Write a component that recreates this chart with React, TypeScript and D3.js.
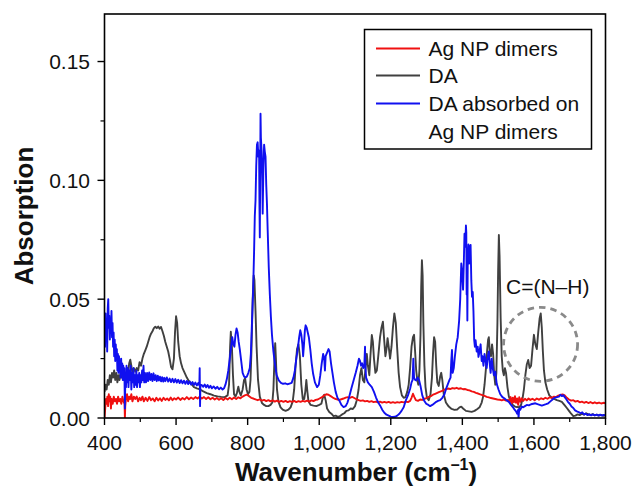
import React from "react";
import * as d3 from "d3";

const xTicks = [400, 600, 800, 1000, 1200, 1400, 1600, 1800];
const xMinorTicks = [500, 700, 900, 1100, 1300, 1500, 1700];
const yTicks = [0, 0.05, 0.1, 0.15];
const yMinorTicks = [0.025, 0.075, 0.125];
const seriesNames = ["Ag NP dimers", "DA", "DA absorbed on Ag NP dimers"];
const seriesColors = ["#f01010", "#404040", "#1010f0"];

const agNP: [number, number][] = [
[400,0.000],[402,0.004],[404,0.008],[406,0.006],[408,0.009],[410,0.005],[412,0.010],[414,0.007],[416,0.009],[418,0.004],[420,0.008],[423,0.006],[426,0.009],[429,0.007],[432,0.008],[435,0.006],[438,0.009],[441,0.007],[444,0.008],[447,0.006],[450,0.009],[453,0.007],[456,0.006],[457,0.000],[458,0.005],[460,0.008],[463,0.010],[466,0.007],[469,0.009],[472,0.008],[475,0.010],[478,0.007],[482,0.009],[486,0.008],[490,0.009],[494,0.007],[498,0.0085],[502,0.0075],[506,0.009],[510,0.007],[515,0.0085],[520,0.0072],[525,0.0088],[530,0.0075],[535,0.0082],[540,0.007],[545,0.0085],[550,0.0074],[555,0.0083],[560,0.0072],[565,0.0085],[570,0.0076],[575,0.0082],[580,0.0074],[585,0.0086],[590,0.0075],[595,0.0083],[600,0.0078],[606,0.0086],[612,0.0076],[618,0.0084],[624,0.0078],[630,0.0088],[636,0.0079],[642,0.0086],[648,0.008],[654,0.0088],[660,0.0082],[666,0.009],[672,0.0082],[678,0.0088],[684,0.008],[690,0.0087],[696,0.0079],[702,0.0085],[708,0.0078],[714,0.0084],[720,0.0077],[726,0.0083],[732,0.0076],[738,0.0084],[744,0.0078],[750,0.0085],[756,0.0079],[762,0.0086],[768,0.008],[774,0.0087],[780,0.0083],[786,0.009],[792,0.0095],[798,0.0098],[804,0.0092],[810,0.0085],[816,0.0082],[822,0.0078],[828,0.0075],[834,0.0078],[840,0.0073],[846,0.0076],[852,0.0071],[858,0.0075],[864,0.007],[870,0.0074],[876,0.0069],[882,0.0073],[888,0.0068],[894,0.0072],[900,0.0068],[906,0.0072],[912,0.0067],[918,0.0071],[924,0.0068],[930,0.0072],[936,0.0067],[942,0.0071],[948,0.0068],[954,0.0072],[960,0.0069],[966,0.0073],[972,0.0069],[978,0.0074],[984,0.0071],[990,0.0076],[996,0.0078],[1002,0.0083],[1008,0.0088],[1014,0.0095],[1020,0.0100],[1026,0.0098],[1032,0.0092],[1038,0.0086],[1044,0.0081],[1050,0.0078],[1056,0.0076],[1062,0.0079],[1068,0.0082],[1074,0.0086],[1080,0.0088],[1086,0.0085],[1092,0.0089],[1098,0.0084],[1104,0.0079],[1110,0.0075],[1116,0.0072],[1122,0.0074],[1128,0.007],[1134,0.0072],[1140,0.0068],[1146,0.0071],[1152,0.0067],[1158,0.0069],[1164,0.0066],[1170,0.0069],[1176,0.0065],[1182,0.0068],[1188,0.0065],[1194,0.0068],[1200,0.0064],[1206,0.0067],[1212,0.0064],[1218,0.0067],[1224,0.0065],[1230,0.0068],[1236,0.0066],[1242,0.0069],[1248,0.0067],[1254,0.0072],[1258,0.0085],[1262,0.0102],[1266,0.0088],[1270,0.0075],[1276,0.0072],[1282,0.0078],[1288,0.0076],[1294,0.0081],[1300,0.0084],[1306,0.0089],[1312,0.0092],[1318,0.0098],[1324,0.0102],[1330,0.0106],[1336,0.011],[1342,0.0113],[1348,0.0118],[1354,0.0121],[1360,0.0124],[1366,0.0122],[1372,0.0126],[1378,0.0124],[1384,0.0127],[1390,0.0123],[1396,0.0125],[1402,0.0121],[1408,0.0122],[1414,0.0118],[1420,0.0116],[1426,0.0112],[1432,0.011],[1438,0.0106],[1444,0.0103],[1450,0.0099],[1456,0.0096],[1462,0.0093],[1468,0.0089],[1474,0.0087],[1480,0.0084],[1486,0.0082],[1492,0.008],[1498,0.0078],[1504,0.0077],[1510,0.0074],[1516,0.0077],[1522,0.0073],[1528,0.0076],[1532,0.0068],[1535,0.0088],[1538,0.0062],[1541,0.0085],[1544,0.0066],[1547,0.0092],[1550,0.0064],[1553,0.0082],[1556,0.0055],[1559,0.0088],[1562,0.0068],[1566,0.0083],[1570,0.0072],[1575,0.0081],[1580,0.0074],[1585,0.0082],[1590,0.0076],[1596,0.0081],[1602,0.0075],[1608,0.0082],[1614,0.0077],[1620,0.0083],[1626,0.0079],[1632,0.0085],[1638,0.0081],[1644,0.0087],[1650,0.0085],[1656,0.009],[1662,0.0088],[1668,0.0094],[1674,0.0097],[1680,0.0099],[1686,0.0095],[1692,0.0085],[1698,0.0078],[1704,0.0073],[1710,0.0075],[1716,0.0069],[1722,0.0072],[1728,0.0066],[1734,0.0069],[1740,0.0064],[1746,0.0068],[1752,0.0063],[1758,0.0067],[1764,0.0062],[1770,0.0066],[1776,0.0062],[1782,0.0065],[1788,0.0061],[1794,0.0064],[1800,0.0062]
];

const da: [number, number][] = [
[400,0.011],[403,0.014],[406,0.012],[409,0.016],[412,0.014],[415,0.018],[418,0.015],[421,0.019],[424,0.017],[427,0.020],[430,0.016],[433,0.019],[436,0.015],[439,0.018],[442,0.016],[445,0.019],[448,0.017],[451,0.020],[454,0.016],[457,0.019],[460,0.017],[463,0.021],[466,0.019],[469,0.023],[472,0.0245],[475,0.022],[478,0.019],[482,0.021],[486,0.0195],[490,0.021],[494,0.020],[498,0.0235],[502,0.022],[506,0.025],[510,0.027],[514,0.0285],[518,0.030],[522,0.032],[526,0.034],[530,0.0355],[534,0.0365],[538,0.0378],[542,0.0384],[546,0.0378],[550,0.0385],[554,0.0376],[558,0.0383],[562,0.0365],[566,0.0345],[570,0.032],[574,0.030],[578,0.028],[582,0.025],[586,0.0215],[590,0.0205],[594,0.025],[597,0.036],[600,0.0428],[603,0.040],[606,0.032],[610,0.026],[614,0.023],[618,0.021],[624,0.019],[630,0.017],[636,0.0155],[642,0.0145],[650,0.013],[658,0.0125],[667,0.012],[676,0.0112],[686,0.0105],[696,0.010],[706,0.0094],[716,0.0091],[726,0.0089],[736,0.0088],[744,0.0095],[748,0.014],[751,0.030],[753,0.0363],[756,0.030],[759,0.018],[762,0.010],[766,0.009],[770,0.0105],[774,0.0132],[777,0.011],[781,0.0095],[786,0.012],[790,0.016],[793,0.0167],[797,0.012],[801,0.010],[805,0.011],[808,0.016],[811,0.030],[814,0.050],[817,0.060],[819,0.058],[822,0.045],[825,0.030],[829,0.016],[834,0.009],[840,0.0063],[846,0.0055],[852,0.005],[858,0.005],[864,0.0055],[869,0.0065],[872,0.012],[875,0.025],[877,0.0315],[879,0.025],[882,0.012],[886,0.007],[892,0.0045],[898,0.0035],[906,0.003],[914,0.0035],[920,0.0045],[926,0.007],[930,0.012],[934,0.022],[938,0.029],[942,0.031],[946,0.026],[950,0.014],[954,0.008],[958,0.008],[961,0.011],[964,0.016],[967,0.011],[970,0.007],[976,0.0055],[984,0.0052],[992,0.005],[1000,0.0055],[1006,0.006],[1010,0.0085],[1014,0.0098],[1018,0.0075],[1022,0.004],[1028,0.0025],[1034,0.0018],[1040,0.0008],[1046,0.001],[1052,0.0005],[1058,0.0008],[1064,0.0015],[1070,0.002],[1076,0.003],[1082,0.0032],[1088,0.004],[1094,0.0038],[1100,0.005],[1105,0.0075],[1110,0.012],[1114,0.018],[1118,0.021],[1122,0.016],[1126,0.015],[1130,0.022],[1133,0.027],[1136,0.022],[1140,0.018],[1143,0.026],[1147,0.0349],[1150,0.032],[1153,0.025],[1157,0.019],[1161,0.020],[1165,0.026],[1170,0.034],[1174,0.038],[1178,0.0405],[1182,0.032],[1185,0.026],[1188,0.029],[1191,0.0336],[1195,0.029],[1198,0.025],[1202,0.030],[1206,0.038],[1210,0.044],[1214,0.040],[1218,0.029],[1222,0.019],[1226,0.013],[1231,0.0095],[1236,0.0085],[1241,0.0088],[1246,0.011],[1250,0.014],[1254,0.021],[1258,0.030],[1262,0.034],[1265,0.035],[1268,0.028],[1271,0.020],[1274,0.016],[1277,0.014],[1280,0.020],[1283,0.035],[1285,0.055],[1287,0.0664],[1289,0.060],[1291,0.040],[1294,0.022],[1297,0.013],[1301,0.0085],[1306,0.0075],[1311,0.010],[1315,0.017],[1318,0.027],[1321,0.034],[1324,0.032],[1327,0.022],[1330,0.015],[1334,0.0135],[1338,0.0175],[1341,0.019],[1344,0.016],[1348,0.010],[1354,0.0065],[1362,0.0048],[1370,0.0038],[1378,0.0034],[1386,0.0036],[1392,0.0045],[1397,0.0048],[1402,0.004],[1410,0.003],[1418,0.0028],[1426,0.0026],[1434,0.003],[1442,0.0038],[1448,0.0045],[1454,0.0065],[1458,0.009],[1462,0.014],[1466,0.021],[1469,0.028],[1472,0.033],[1474,0.034],[1477,0.027],[1480,0.026],[1483,0.031],[1486,0.027],[1489,0.018],[1492,0.014],[1495,0.019],[1498,0.040],[1500,0.062],[1502,0.077],[1504,0.068],[1507,0.042],[1510,0.026],[1513,0.020],[1516,0.018],[1519,0.021],[1522,0.019],[1526,0.013],[1530,0.009],[1535,0.007],[1541,0.0055],[1547,0.0048],[1553,0.0046],[1559,0.0045],[1564,0.0055],[1568,0.008],[1572,0.012],[1576,0.018],[1580,0.0225],[1584,0.0244],[1588,0.021],[1592,0.022],[1596,0.029],[1600,0.035],[1604,0.031],[1608,0.029],[1612,0.036],[1616,0.042],[1619,0.044],[1622,0.038],[1625,0.028],[1628,0.020],[1632,0.015],[1637,0.012],[1643,0.0095],[1650,0.0085],[1657,0.008],[1664,0.0075],[1671,0.0072],[1678,0.0068],[1685,0.0055],[1692,0.0042],[1698,0.003],[1704,0.0018],[1710,0.0008],[1716,0.001],[1722,0.0015],[1728,0.0012],[1734,0.0018],[1740,0.0014],[1746,0.002],[1752,0.0015],[1758,0.0012],[1764,0.0016],[1770,0.0011],[1776,0.0014],[1782,0.001],[1788,0.0013],[1794,0.0009],[1800,0.0011]
];

const daOnAg: [number, number][] = [
[400,0.040],[401.5,0.030],[403,0.044],[404.5,0.034],[406,0.041],[407.5,0.028],[409,0.046],[410.5,0.050],[412,0.038],[413.5,0.043],[415,0.033],[416.5,0.042],[418,0.036],[419.5,0.045],[421,0.034],[422.5,0.040],[424,0.030],[425.5,0.036],[427,0.026],[428.5,0.033],[430,0.024],[431.5,0.031],[433,0.025],[434.5,0.029],[436,0.020],[437.5,0.027],[439,0.019],[440.5,0.026],[442,0.021],[443.5,0.024],[445,0.017],[446.5,0.025],[448,0.019],[449.5,0.023],[451,0.016],[452.5,0.022],[454,0.018],[455.5,0.021],[457,0.004],[458.5,0.019],[460,0.013],[461.5,0.022],[463,0.015],[465,0.021],[467,0.013],[469,0.020],[471,0.016],[473,0.022],[475,0.012],[477,0.019],[479,0.015],[481,0.021],[483,0.013],[485,0.018],[487,0.014],[489,0.020],[491,0.013],[493,0.018],[495,0.015],[497,0.019],[499,0.013],[501,0.018],[503,0.015],[505,0.020],[507,0.016],[509,0.022],[511,0.015],[513,0.019],[516,0.015],[519,0.019],[522,0.0155],[525,0.0192],[528,0.016],[531,0.0185],[534,0.0155],[537,0.0188],[540,0.016],[543,0.018],[546,0.0155],[549,0.0178],[552,0.0158],[555,0.0174],[558,0.0154],[561,0.0172],[564,0.0153],[567,0.0169],[570,0.0155],[574,0.0171],[578,0.0153],[582,0.0166],[586,0.0151],[590,0.0165],[594,0.015],[598,0.0164],[602,0.0149],[606,0.0161],[610,0.0147],[614,0.0159],[618,0.0146],[622,0.0157],[626,0.0144],[630,0.0156],[634,0.0143],[638,0.0154],[642,0.0141],[646,0.0151],[650,0.0139],[654,0.0149],[658,0.0137],[662,0.0147],[665,0.0137],[666,0.021],[667,0.005],[668,0.014],[672,0.0138],[676,0.0131],[680,0.0141],[684,0.0129],[688,0.0139],[692,0.0127],[696,0.0136],[700,0.0125],[705,0.0133],[710,0.0123],[715,0.0131],[720,0.0121],[725,0.0128],[730,0.012],[734,0.0125],[738,0.014],[742,0.0165],[746,0.020],[750,0.025],[754,0.030],[757,0.034],[760,0.031],[763,0.030],[766,0.035],[769,0.0377],[772,0.036],[775,0.032],[778,0.029],[782,0.024],[786,0.019],[790,0.0175],[794,0.017],[798,0.0175],[802,0.019],[806,0.021],[809,0.027],[812,0.040],[815,0.052],[818,0.070],[820,0.085],[822,0.0915],[824,0.106],[826,0.115],[828,0.116],[830,0.110],[832,0.1125],[833,0.090],[834,0.076],[835,0.100],[836,0.128],[837,0.118],[839,0.1125],[841,0.100],[842,0.086],[844,0.105],[846,0.115],[848,0.112],[850,0.110],[852,0.098],[854,0.090],[856,0.079],[859,0.0635],[862,0.052],[865,0.0425],[868,0.035],[872,0.028],[876,0.023],[881,0.018],[887,0.0158],[893,0.0148],[899,0.0144],[905,0.0146],[911,0.0142],[917,0.0145],[923,0.0148],[928,0.017],[932,0.020],[936,0.025],[940,0.029],[944,0.034],[947,0.0369],[950,0.035],[953,0.031],[955,0.026],[957,0.030],[960,0.037],[962,0.039],[965,0.038],[968,0.036],[971,0.034],[975,0.029],[979,0.023],[983,0.0186],[988,0.015],[994,0.013],[999,0.014],[1003,0.018],[1007,0.023],[1011,0.027],[1014,0.025],[1016,0.020],[1018,0.026],[1022,0.0275],[1026,0.029],[1029,0.028],[1033,0.023],[1037,0.019],[1041,0.015],[1046,0.011],[1051,0.0085],[1056,0.0074],[1062,0.0055],[1068,0.0046],[1074,0.005],[1079,0.0065],[1084,0.009],[1090,0.0125],[1096,0.0158],[1102,0.019],[1107,0.022],[1111,0.025],[1114,0.024],[1117,0.022],[1120,0.023],[1123,0.021],[1126,0.022],[1128,0.030],[1129,0.022],[1131,0.017],[1136,0.015],[1141,0.014],[1147,0.013],[1153,0.011],[1159,0.0085],[1165,0.0065],[1170,0.0053],[1176,0.0035],[1182,0.0022],[1188,0.0014],[1194,0.001],[1200,0.0006],[1206,0.0004],[1212,0.0005],[1218,0.001],[1224,0.0018],[1230,0.003],[1236,0.0045],[1242,0.0074],[1248,0.0095],[1254,0.0123],[1258,0.015],[1261,0.016],[1263,0.025],[1265,0.017],[1268,0.016],[1271,0.0158],[1275,0.017],[1279,0.016],[1283,0.0135],[1288,0.0095],[1293,0.0074],[1299,0.006],[1305,0.0055],[1310,0.005],[1316,0.0055],[1322,0.0062],[1327,0.0068],[1332,0.0072],[1338,0.0075],[1344,0.0085],[1350,0.01],[1355,0.0125],[1360,0.0145],[1364,0.016],[1367,0.017],[1369,0.024],[1371,0.0286],[1373,0.019],[1376,0.021],[1379,0.0257],[1383,0.031],[1387,0.034],[1391,0.041],[1394,0.050],[1397,0.065],[1400,0.060],[1402,0.054],[1404,0.065],[1406,0.0775],[1408,0.072],[1410,0.081],[1411,0.078],[1412,0.052],[1413,0.060],[1414,0.041],[1415,0.066],[1417,0.073],[1419,0.065],[1421,0.072],[1423,0.0728],[1425,0.058],[1427,0.051],[1429,0.053],[1431,0.045],[1433,0.033],[1435,0.030],[1437,0.0327],[1440,0.028],[1443,0.030],[1445,0.0257],[1448,0.028],[1451,0.031],[1454,0.024],[1456,0.026],[1459,0.022],[1462,0.027],[1465,0.024],[1468,0.021],[1471,0.026],[1474,0.028],[1477,0.022],[1479,0.019],[1482,0.025],[1485,0.021],[1488,0.018],[1492,0.0195],[1496,0.0144],[1501,0.012],[1506,0.010],[1512,0.0088],[1518,0.0082],[1524,0.0074],[1530,0.0068],[1536,0.0055],[1541,0.0046],[1546,0.0035],[1550,0.0028],[1553,0.0018],[1556,0.0035],[1557,0.0],[1559,0.004],[1562,0.0035],[1566,0.0048],[1570,0.0045],[1575,0.005],[1580,0.0055],[1586,0.0053],[1592,0.0058],[1598,0.006],[1604,0.0062],[1610,0.0058],[1616,0.0055],[1622,0.0052],[1628,0.0055],[1634,0.0058],[1640,0.0062],[1646,0.007],[1652,0.0078],[1658,0.0085],[1664,0.0088],[1670,0.009],[1674,0.0098],[1678,0.0092],[1682,0.0096],[1686,0.0088],[1690,0.008],[1695,0.0068],[1700,0.006],[1705,0.0048],[1710,0.0042],[1715,0.0032],[1720,0.0028],[1725,0.0025],[1730,0.002],[1735,0.0024],[1740,0.0015],[1745,0.0018],[1750,0.0012],[1755,0.0016],[1760,0.0011],[1765,0.0015],[1770,0.0011],[1775,0.0014],[1780,0.001],[1785,0.0014],[1790,0.001],[1795,0.0013],[1800,0.0011]
];

const annotationText = "C=(N\u2013H)";
const annotationCenter: [number, number] = [1620, 0.0310];

const W = 634;
const H = 489;
const M = { left: 104.5, right: 605.5, top: 14, bottom: 418 };
const FONT = "'Liberation Sans', Arial, Helvetica, sans-serif";

export default function App() {
  const x = d3.scaleLinear().domain([400, 1800]).range([M.left, M.right]);
  const y = d3.scaleLinear().domain([0, 0.17]).range([M.bottom, M.top]);
  const line = d3
    .line<[number, number]>()
    .x((d) => x(d[0]))
    .y((d) => y(d[1]));
  const fmtX = d3.format(",");
  const fmtY = d3.format(".2f");
  const series = [agNP, da, daOnAg];
  const drawOrder = [1, 0, 2];

  const legendX = 364.5;
  const legendY = 29.5;
  const legendRows = [
    { y: 48.5, text: seriesNames[0], color: seriesColors[0] },
    { y: 75.5, text: seriesNames[1], color: seriesColors[1] },
    { y: 103.5, text: "DA absorbed on", color: seriesColors[2] },
  ];

  return (
    <svg
      width={W}
      height={H}
      style={{ position: "absolute", left: 0, top: 0, background: "#fff" }}
      fontFamily={FONT}
    >
      <defs>
        <clipPath id="plotClip">
          <rect x={M.left} y={M.top} width={M.right - M.left} height={M.bottom - M.top} />
        </clipPath>
      </defs>
      <rect x={0} y={0} width={W} height={H} fill="#fff" />

      <g clipPath="url(#plotClip)">
        {drawOrder.map((i) => (
          <path
            key={i}
            d={line(series[i]) || ""}
            fill="none"
            stroke={seriesColors[i]}
            strokeWidth={1.9}
            strokeLinejoin="round"
          />
        ))}
      </g>

      {/* annotation */}
      <circle
        cx={x(annotationCenter[0]) - 0.5}
        cy={y(annotationCenter[1])}
        r={37}
        fill="none"
        stroke="#8a8a8a"
        strokeWidth={2.8}
        strokeDasharray="6.5 5"
      />
      <text x={506} y={294} fontSize={21} fill="#111">
        {annotationText}
      </text>

      {/* frame */}
      <rect
        x={M.left}
        y={M.top}
        width={M.right - M.left}
        height={M.bottom - M.top}
        fill="none"
        stroke="#000"
        strokeWidth={1.6}
      />

      {/* x ticks */}
      {xTicks.map((t) => (
        <g key={"xt" + t}>
          <line x1={x(t)} x2={x(t)} y1={M.bottom} y2={M.bottom + 7} stroke="#000" strokeWidth={1.4} />
          <text x={x(t)} y={450} fontSize={21} textAnchor="middle" fill="#111">
            {fmtX(t)}
          </text>
        </g>
      ))}
      {xMinorTicks.map((t) => (
        <line key={"xm" + t} x1={x(t)} x2={x(t)} y1={M.bottom} y2={M.bottom + 4} stroke="#000" strokeWidth={1.2} />
      ))}

      {/* y ticks */}
      {yTicks.map((t) => (
        <g key={"yt" + t}>
          <line x1={M.left - 7} x2={M.left} y1={y(t)} y2={y(t)} stroke="#000" strokeWidth={1.4} />
          <text x={90} y={y(t) + 7.5} fontSize={21} textAnchor="end" fill="#111">
            {fmtY(t)}
          </text>
        </g>
      ))}
      {yMinorTicks.map((t) => (
        <line key={"ym" + t} x1={M.left - 4} x2={M.left} y1={y(t)} y2={y(t)} stroke="#000" strokeWidth={1.2} />
      ))}

      {/* axis titles */}
      <text x={356} y={481} fontSize={26} fontWeight="bold" textAnchor="middle" fill="#111">
        Wavenumber (cm
        <tspan fontSize={16} dy={-11}>
          {"\u20131"}
        </tspan>
        <tspan dy={11}>)</tspan>
      </text>
      <text
        transform={`translate(33, ${(M.top + M.bottom) / 2}) rotate(-90)`}
        fontSize={26}
        fontWeight="bold"
        textAnchor="middle"
        fill="#111"
      >
        Absorption
      </text>

      {/* legend */}
      <rect x={legendX} y={legendY} width={227} height={119.5} fill="#fff" stroke="#000" strokeWidth={1.5} />
      {legendRows.map((r) => (
        <g key={r.text}>
          <line x1={376} x2={420} y1={r.y} y2={r.y} stroke={r.color} strokeWidth={2} />
          <text x={428.5} y={r.y + 7.8} fontSize={21} fill="#111">
            {r.text}
          </text>
        </g>
      ))}
      <text x={428.5} y={138.5} fontSize={21} fill="#111">
        Ag NP dimers
      </text>
    </svg>
  );
}
